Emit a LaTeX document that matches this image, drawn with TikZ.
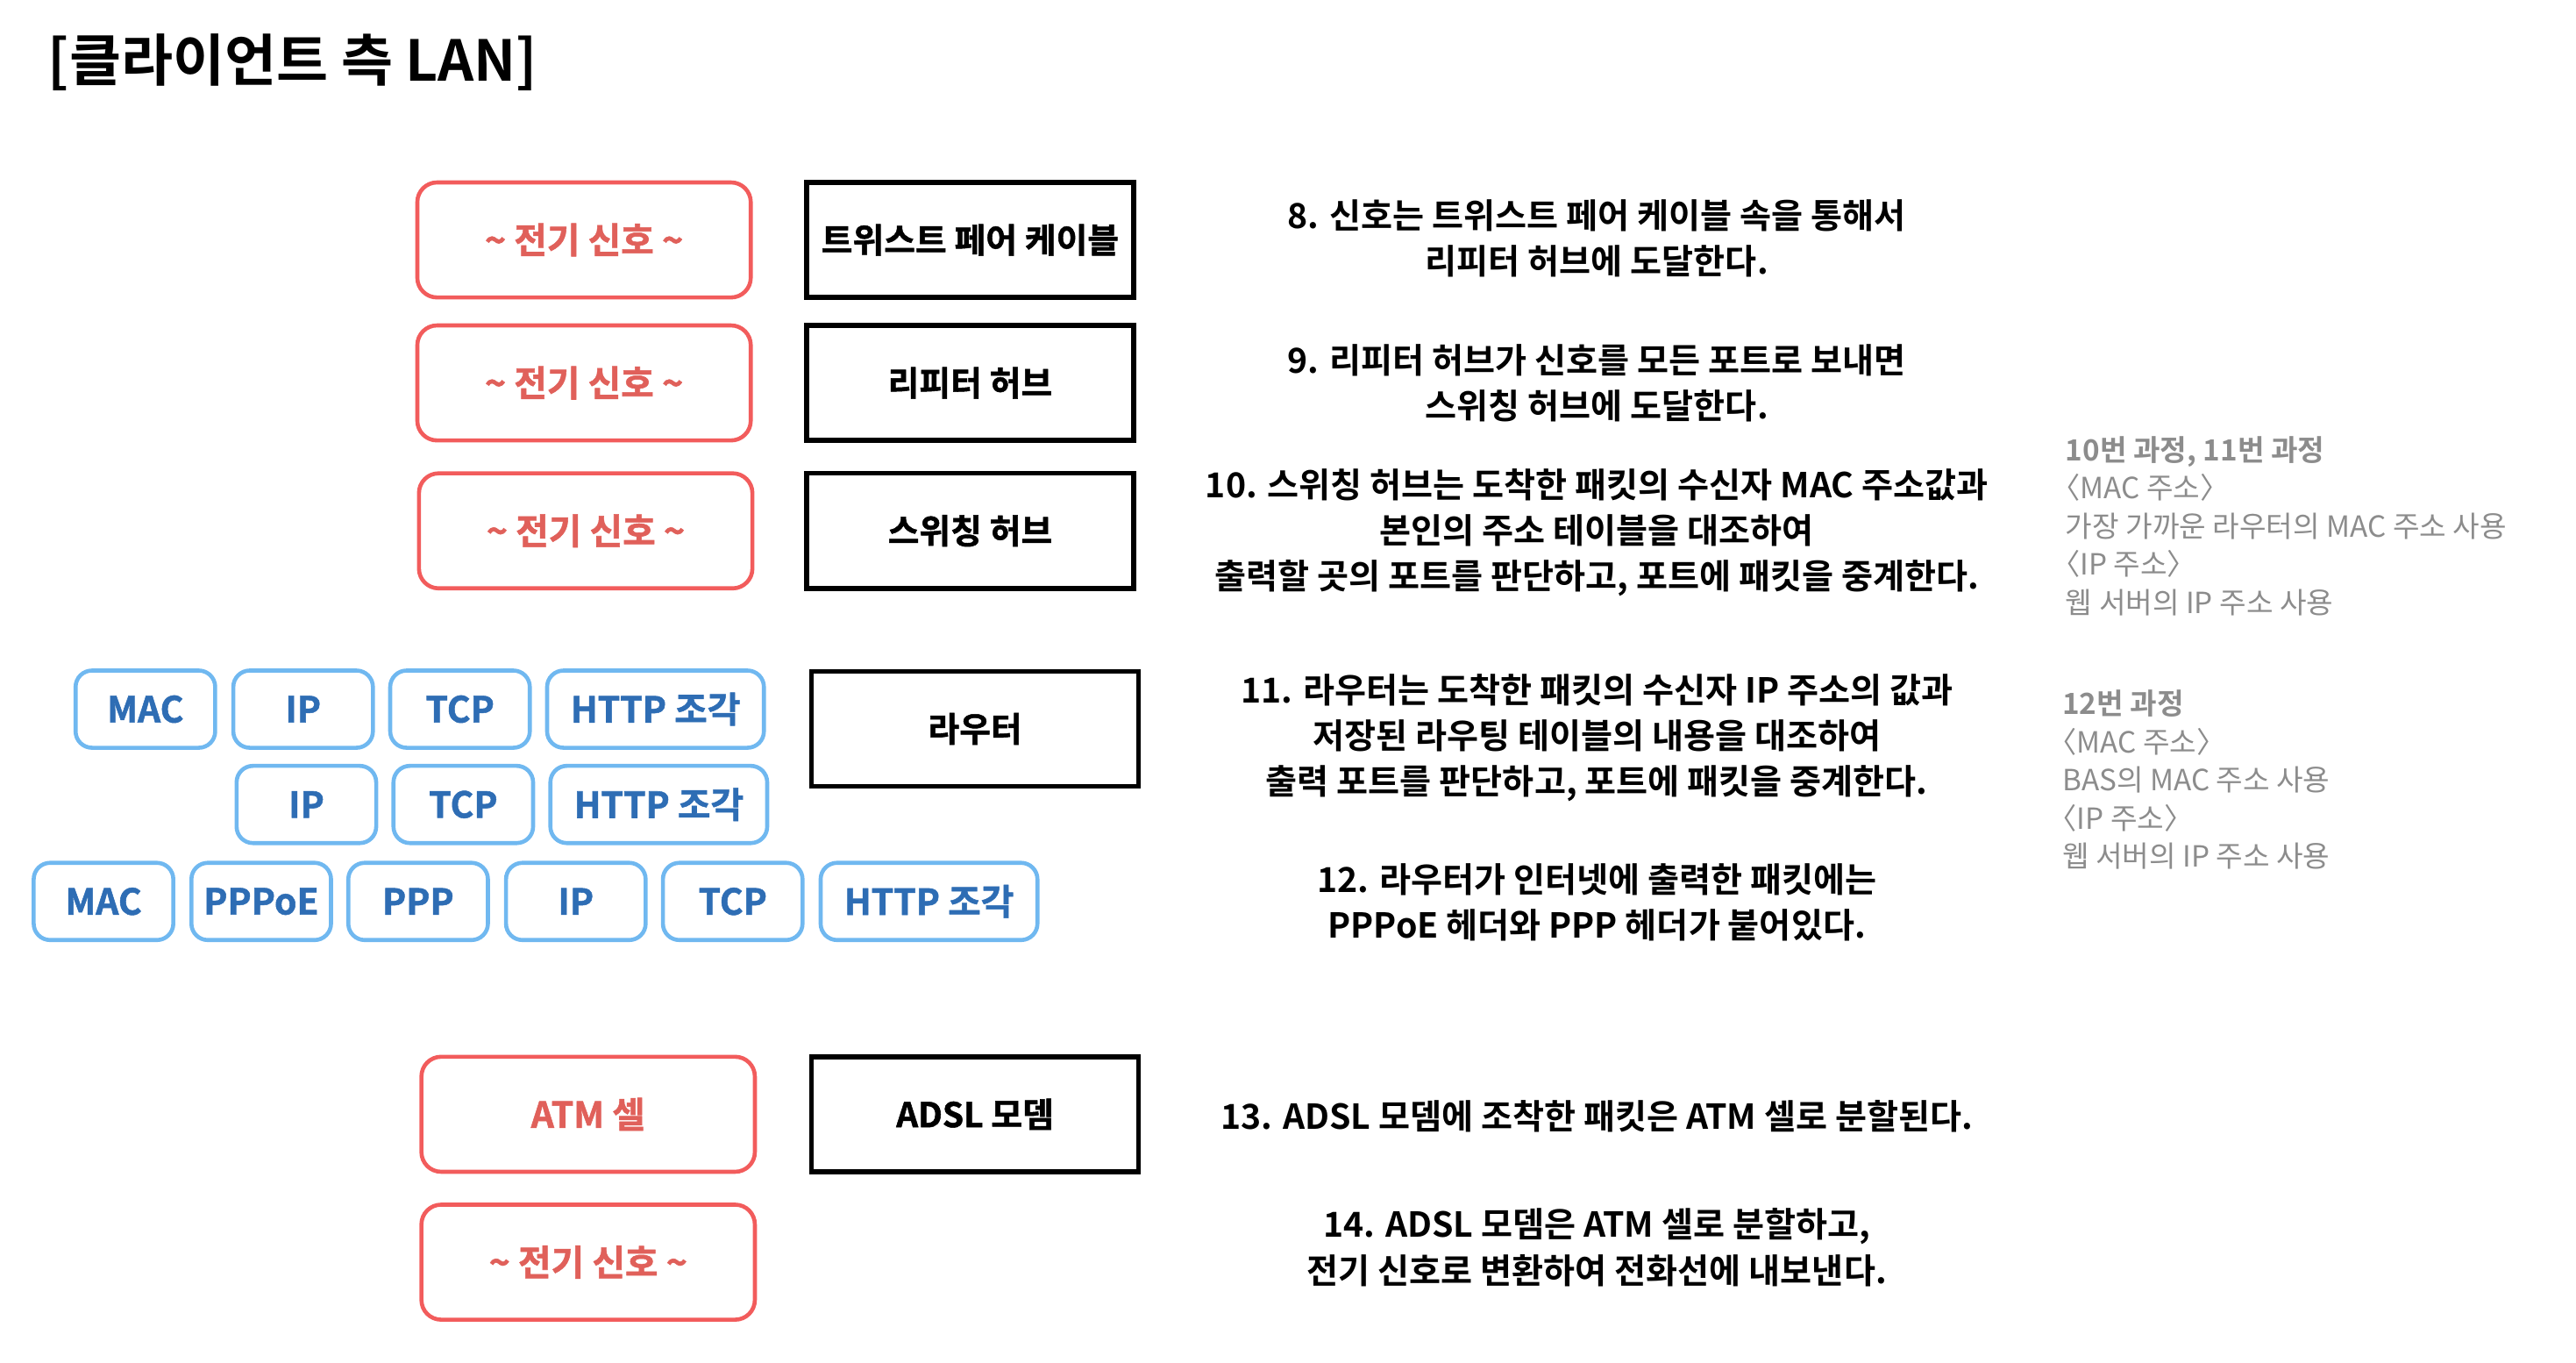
\documentclass[tikz,border=0pt]{standalone}
\usepackage{fontspec}
\setmainfont{Noto Sans CJK KR}[BoldFont={Noto Sans CJK KR Bold}]
\newfontfamily\heavykr{Noto Sans CJK KR Bold}[FakeBold=1.3]
\usetikzlibrary{positioning}
\definecolor{Sig_Red}{HTML}{F25C5C}
\definecolor{Sig_Text}{HTML}{E0605A}
\definecolor{Hdr_Blue}{HTML}{70B8F0}
\definecolor{Hdr_Text}{HTML}{2E6DB4}
\definecolor{Note_Gray}{HTML}{8C8C8C}
\newcommand{\boxfont}{\heavykr\fontsize{11.8}{13}\selectfont}
\newcommand{\hdrfont}{\heavykr\fontsize{12.4}{14}\selectfont}
\newcommand{\descfont}{\bfseries\fontsize{11.9}{15.9}\selectfont}
\newcommand{\notefont}{\fontsize{10.1}{13.2}\selectfont}
\newcommand{\lbr}{\kern-0.5em〈}

\begin{document}
\begin{tikzpicture}[x=0.02cm, y=-0.02cm,
    sigbox/.style={draw=Sig_Red, line width=1.4pt, rounded corners=0.24cm, inner sep=0pt,
      minimum width=4.06cm, minimum height=1.4cm, text=Sig_Text, font=\hdrfont},
    devbox/.style={draw=black, line width=1.7pt, inner sep=0pt,
      minimum width=3.98cm, minimum height=1.4cm, font=\boxfont},
    hdrbox/.style={draw=Hdr_Blue, line width=1.4pt, rounded corners=0.2cm, inner sep=0pt,
      minimum width=1.7cm, minimum height=0.94cm, text=Hdr_Text, font=\hdrfont},
    hdrwide/.style={hdrbox, minimum width=2.64cm},
    desc/.style={align=center, inner sep=0pt, font=\descfont},
    note/.style={align=left, anchor=west, inner sep=0pt, text=Note_Gray, font=\notefont}]
    \useasboundingbox (0,0) rectangle (1568,829);

    % Title
    \node[anchor=west, inner sep=0pt, font=\bfseries\fontsize{19.5}{22}\selectfont] (title) at (29,38) {[클라이언트 측 LAN]};

    % Signal boxes
    \node[sigbox] (sig1) at (355.5,146) {\textasciitilde{} 전기 신호 \textasciitilde};
    \node[sigbox] (sig2) at (355.5,233) {\textasciitilde{} 전기 신호 \textasciitilde};
    \node[sigbox] (sig3) at (356.5,323) {\textasciitilde{} 전기 신호 \textasciitilde};
    \node[sigbox] (atm)  at (358,678)   {ATM 셀};
    \node[sigbox] (sig5) at (358,768)   {\textasciitilde{} 전기 신호 \textasciitilde};

    % Devices
    \node[devbox] (cable)  at (590.5,146) {트위스트 페어 케이블};
    \node[devbox] (repeat) at (590.5,233) {리피터 허브};
    \node[devbox] (switch) at (590.5,323) {스위칭 허브};
    \node[devbox] (router) at (593.5,443.5) {라우터};
    \node[devbox] (modem)  at (593.5,678) {ADSL 모뎀};

    % Packet headers, before the router
    \node[hdrbox] (macA)  at (88.5,431.5) {MAC};
    \node[hdrbox] (ipA)   at (184.5,431.5) {IP};
    \node[hdrbox] (tcpA)  at (280,431.5) {TCP};
    \node[hdrwide] (httpA) at (399,431.5) {HTTP 조각};

    % Packet headers, inside the router
    \node[hdrbox] (ipB)   at (186.5,489.5) {IP};
    \node[hdrbox] (tcpB)  at (282,489.5) {TCP};
    \node[hdrwide] (httpB) at (401,489.5) {HTTP 조각};

    % Packet headers, towards the internet
    \node[hdrbox] (macC)   at (63,548.5) {MAC};
    \node[hdrbox] (pppoeC) at (159,548.5) {PPPoE};
    \node[hdrbox] (pppC)   at (254.5,548.5) {PPP};
    \node[hdrbox] (ipC)    at (350.5,548.5) {IP};
    \node[hdrbox] (tcpC)   at (446,548.5) {TCP};
    \node[hdrwide] (httpC) at (565.5,548.5) {HTTP 조각};

    % Step descriptions
    \node[desc] (d8)  at (972,145) {8. 신호는 트위스트 페어 케이블 속을 통해서\\리피터 허브에 도달한다.};
    \node[desc] (d9)  at (972,233) {9. 리피터 허브가 신호를 모든 포트로 보내면\\스위칭 허브에 도달한다.};
    \node[desc] (d10) at (972,324) {10. 스위칭 허브는 도착한 패킷의 수신자 MAC 주소값과\\본인의 주소 테이블을 대조하여\\출력할 곳의 포트를 판단하고, 포트에 패킷을 중계한다.};
    \node[desc] (d11) at (972,449) {11. 라우터는 도착한 패킷의 수신자 IP 주소의 값과\\저장된 라우팅 테이블의 내용을 대조하여\\출력 포트를 판단하고, 포트에 패킷을 중계한다.};
    \node[desc] (d12) at (972,549) {12. 라우터가 인터넷에 출력한 패킷에는\\PPPoE 헤더와 PPP 헤더가 붙어있다.};
    \node[desc] (d13) at (972,679) {13. ADSL 모뎀에 조착한 패킷은 ATM 셀로 분할된다.};
    \node[desc] (d14) at (972,759) {14. ADSL 모뎀은 ATM 셀로 분할하고,\\전기 신호로 변환하여 전화선에 내보낸다.};

    % Address notes
    \node[note] (n1) at (1257,320) {\textbf{10번 과정, 11번 과정}\\\lbr MAC 주소〉\\가장 가까운 라우터의 MAC 주소 사용\\\lbr IP 주소〉\\웹 서버의 IP 주소 사용};
    \node[note] (n2) at (1255,474.5) {\textbf{12번 과정}\\\lbr MAC 주소〉\\BAS의 MAC 주소 사용\\\lbr IP 주소〉\\웹 서버의 IP 주소 사용};
\end{tikzpicture}
\end{document}
